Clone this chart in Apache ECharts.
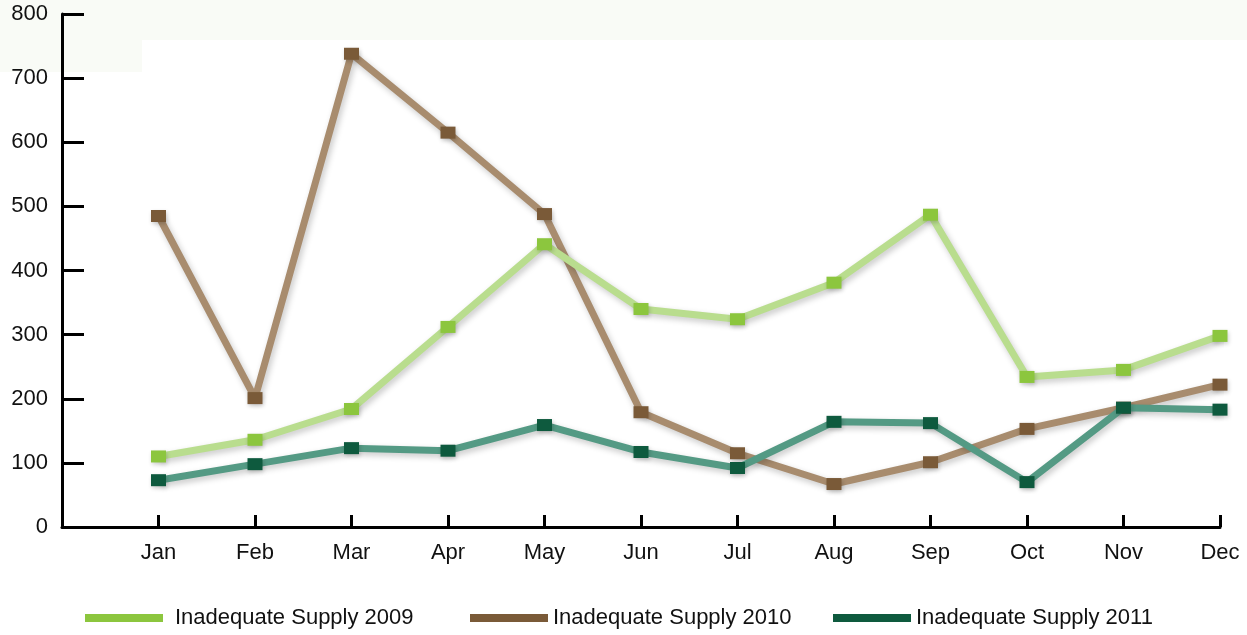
<!DOCTYPE html>
<html><head><meta charset="utf-8">
<script src="https://cdn.jsdelivr.net/npm/echarts@6/dist/echarts.min.js"></script>
<style>html,body{margin:0;padding:0;background:#fff}#c{width:1247px;height:635px}</style>
</head><body><div id="c"></div>
<script>
var categories = ['', 'Jan','Feb','Mar','Apr','May','Jun','Jul','Aug','Sep','Oct','Nov','Dec'];
var yTicks = [0,100,200,300,400,500,600,700,800];
var supply2009 = [null, 110, 136, 184, 312, 441, 340, 324, 381, 487, 234, 245, 298];
var supply2010 = [null, 485, 201, 738, 615, 488, 179, 115, 67, 101, 153, 186, 222];
var supply2011 = [null, 73, 98, 123, 119, 159, 117, 92, 164, 162, 70, 186, 183];

var chart = echarts.init(document.getElementById('c'));
var font = 'Liberation Sans, Arial, Helvetica, sans-serif';
function mk(name, data, lineColor, markColor, z) {
  return {
    name: name, type: 'line', data: data, z: z,
    symbol: 'rect', symbolSize: [15, 12], showAllSymbol: true,
    connectNulls: false, animation: false,
    lineStyle: { color: lineColor, width: 7, shadowBlur: 6, shadowColor: 'rgba(0,0,0,0.22)', shadowOffsetX: 2, shadowOffsetY: 3 },
    itemStyle: { color: markColor, borderWidth: 0, shadowBlur: 4, shadowColor: 'rgba(0,0,0,0.2)', shadowOffsetX: 1, shadowOffsetY: 2 },
    emphasis: { disabled: true }
  };
}
function leg(name, left, gap) {
  return {
    data: [name], left: left, top: 607, padding: 0,
    icon: 'rect', itemWidth: 78, itemHeight: 8, selectedMode: false,
    textStyle: { fontFamily: font, fontSize: 22, color: '#111', padding: [0, 0, 0, gap] }
  };
}
chart.setOption({
  backgroundColor: '#fff',
  animation: false,
  graphic: [
    { type: 'rect', z: -10, silent: true, shape: { x: 0, y: 0, width: 1247, height: 40 }, style: { fill: '#f9fbf6' } },
    { type: 'rect', z: -10, silent: true, shape: { x: 0, y: 40, width: 142, height: 32 }, style: { fill: '#f9fbf6' } }
  ],
  grid: { left: 62, right: 27, top: 14, bottom: 108, containLabel: false },
  legend: [
    leg('Inadequate Supply 2009', 85, 7),
    leg('Inadequate Supply 2010', 470, 0),
    leg('Inadequate Supply 2011', 833, 0)
  ],
  xAxis: {
    type: 'category', data: categories, boundaryGap: false,
    axisLine: { lineStyle: { color: '#000', width: 3 } },
    axisTick: { inside: true, length: 12, lineStyle: { color: '#000', width: 3 },
      interval: function (i) { return i > 0; } },
    axisLabel: { interval: 0, margin: 15, fontFamily: font, fontSize: 22, color: '#111' },
    splitLine: { show: false }
  },
  yAxis: {
    type: 'value', min: yTicks[0], max: yTicks[yTicks.length - 1], interval: 100,
    axisLine: { show: true, lineStyle: { color: '#000', width: 3 } },
    axisTick: { show: true, inside: true, length: 22, lineStyle: { color: '#000', width: 3 } },
    axisLabel: { margin: 14, fontFamily: font, fontSize: 22, color: '#111' },
    splitLine: { show: false }
  },
  series: [
    mk('Inadequate Supply 2010', supply2010, '#a88c6e', '#7a5a38', 2),
    mk('Inadequate Supply 2009', supply2009, '#b9dd8e', '#8cc63e', 3),
    mk('Inadequate Supply 2011', supply2011, '#549a84', '#0e5a3e', 4)
  ]
});
</script></body></html>
